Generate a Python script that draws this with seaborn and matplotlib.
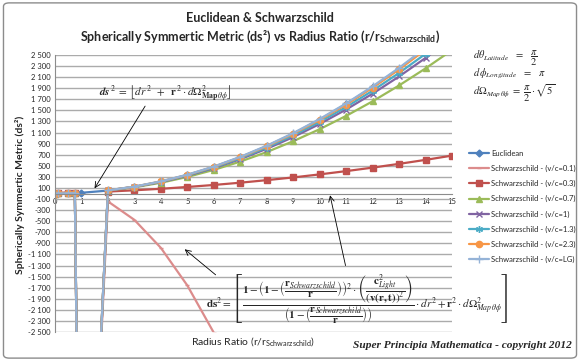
import numpy as np
import pandas as pd
import seaborn as sns
import matplotlib.pyplot as plt
from matplotlib.patches import FancyBboxPatch
from matplotlib.ticker import FuncFormatter

# radius ratio r / r_schwarzschild
r_euclid = [0, 1, 2, 3, 4, 5, 6, 7, 8, 9, 10, 11, 12, 13, 14, 15]
r_schw = [0, 0.1, 0.5, 0.75, 0.9999, 2, 3, 4, 5, 6, 7, 8, 9, 10, 11, 12, 13, 14, 15]

euclidean = [0, 13, 53, 120, 213, 333, 480, 654, 854, 1080, 1334, 1614, 1921, 2254, 2614, 3001]
schw_01 = [0, 9, 28, 24, -9987, -143, -476, -981, -1660, -2513, -3538, -4737, -6110, -7655,
           -9374, -11266, -13332, -15571, -17983]
schw_03 = [0, 1, 6, 7, -9987, 35, 58, 85, 118, 154, 195, 241, 290, 345, 404, 467, 535, 607, 684]
schw_07 = [0, 0.3, 3, 6, -9987, 53, 112, 194, 299, 426, 576, 748, 944, 1161, 1401, 1664, 1950,
           2258, 2588]
schw_1 = [0, 0.2, 3, 5, -9987, 55, 119, 207, 320, 457, 620, 807, 1018, 1255, 1516, 1802, 2112,
          2447, 2807]
schw_13 = [0, 0.2, 3, 5, -9987, 56, 121, 212, 328, 470, 637, 830, 1048, 1292, 1561, 1856, 2176,
           2521, 2893]
schw_23 = [0, 0.1, 3, 5, -9987, 57, 123, 217, 336, 482, 654, 852, 1077, 1328, 1605, 1909, 2239,
           2595, 2977]
schw_lg = [0, 0.1, 3, 5, -9987, 57, 125, 219, 340, 487, 662, 863, 1090, 1345, 1626, 1934, 2268,
           2629, 3017]

labels = ['Euclidean', 'Schwarzschild - (v/c=0.1)', 'Schwarzschild - (v/c=0.3)',
          'Schwarzschild - (v/c=0.7)', 'Schwarzschild - (v/c=1)', 'Schwarzschild - (v/c=1.3)',
          'Schwarzschild - (v/c=2.3)', 'Schwarzschild - (v/c=LG)']
colors = ['#4F81BD', '#DC8C8C', '#C0504D', '#9BBB59', '#8064A2', '#4BACC6', '#F79646', '#95B3D7']
markers = ['D', '_', 's', '^', 'x', (6, 2, 0), 'o', '+']
marker_sizes = [3.5, 3, 4.2, 4.5, 4.5, 5, 4.5, 5.5]

series = [euclidean, schw_01, schw_03, schw_07, schw_1, schw_13, schw_23, schw_lg]
x_values = [r_euclid] + [r_schw] * 7

sns.set_style('white')
plt.rcParams['font.family'] = ['Lato', 'DejaVu Sans']
plt.rcParams['mathtext.fontset'] = 'stix'

fig = plt.figure(figsize=(5.8, 3.61), dpi=100)
ax = fig.add_axes([55 / 580, 1 - 332 / 361, 397 / 580, 277 / 361])

for xs, ys, lab, col, mk, ms in zip(x_values, series, labels, colors, markers, marker_sizes):
    df = pd.DataFrame({'x': xs, 'y': ys})
    sns.lineplot(data=df, x='x', y='y', ax=ax, color=col, marker=mk, markersize=ms,
                 markeredgecolor=col, markeredgewidth=1.0, linewidth=1.6, label=lab,
                 sort=False, estimator=None)

ax.set_xlim(0, 15)
ax.set_ylim(-2500, 2500)
ax.set_xticks(range(0, 16))
ax.set_yticks(np.arange(-2500, 2501, 200))
ax.yaxis.set_major_formatter(FuncFormatter(lambda v, p: f'{int(v):,}'.replace(',', ' ')))
ax.grid(axis='y', color='#ABABAB', linewidth=1.0)
ax.set_axisbelow(True)
ax.spines['bottom'].set_position(('data', 0))
ax.spines['bottom'].set_color('#8C8C8C')
ax.spines['left'].set_color('#8C8C8C')
ax.spines['top'].set_visible(False)
ax.spines['right'].set_visible(False)
ax.tick_params(axis='both', labelsize=5.5, length=0, pad=3)
ax.set_xlabel('')
ax.set_ylabel('')
ax.get_legend().remove()

handles, labs = ax.get_legend_handles_labels()
fig.legend(handles, labs, loc='upper left', bbox_to_anchor=(462 / 580, 1 - 143 / 361),
           frameon=False, fontsize=5.5, handlelength=2.6, handletextpad=0.3, labelspacing=1.05)

# titles
fig.text(0.449, 1 - 18 / 361, 'Euclidean & Schwarzschild', ha='center', va='center',
         fontsize=9, fontweight='bold')
fig.text(0.449, 1 - 37 / 361,
         r'Spherically Symmertic Metric (ds²) vs Radius Ratio (r/r$_{\mathregular{Schwarzschild}}$)',
         ha='center', va='center', fontsize=9, fontweight='bold')
fig.text(20 / 580, 1 - 195 / 361, 'Spherically Symmertic Metric (ds²)', rotation=90,
         ha='center', va='center', fontsize=7.5, fontweight='bold')
fig.text(253 / 580, 1 - 341 / 361, r'Radius Ratio (r/r$_{\mathregular{Schwarzschild}}$)',
         ha='center', va='center', fontsize=7.5)
fig.text(572 / 580, 1 - 346 / 361, 'Super Principia Mathematica - copyright 2012',
         ha='right', va='center', fontsize=8.2, fontweight='bold', fontstyle='italic',
         family='Liberation Serif')

# equations
fig.text(165 / 580, 1 - 93 / 361,
         r'$\mathbfit{ds}^{\,2} \;=\; \left\lfloor \mathit{dr}^{\,2} \;\;+\;\; \mathbf{r}^{\,2}\cdot'
         r' \mathit{d}\Omega^{2}_{\mathbf{Map}\,\theta\phi} \right\rfloor$',
         ha='center', va='center', fontsize=8)
fig.text(473 / 580, 1 - 58 / 361, r'$\mathit{d\theta}_{\mathit{Latitude}}\;\;\;=\;\;\;\dfrac{\pi}{2}$',
         ha='left', va='center', fontsize=7.5)
fig.text(473 / 580, 1 - 74 / 361, r'$\mathit{d\,\phi}_{\mathit{Longitude}}\;\;\;=\;\;\;\pi$',
         ha='left', va='center', fontsize=7.5)
fig.text(473 / 580, 1 - 93 / 361,
         r'$\mathit{d}\Omega_{\mathit{Map}\,\theta\phi}\; =\; \dfrac{\pi}{2}\cdot\sqrt{5}$',
         ha='left', va='center', fontsize=7.5)
fig.text(357 / 580, 1 - 300 / 361,
         r'$\mathbf{ds}^2 = \left[\dfrac{\mathbf{1} - \left(\mathbf{1} - \left(\dfrac{\mathbf{r}_{Schwarzschild}}{\mathbf{r}}\right)\right)^2'
         r' \cdot \left(\dfrac{\mathbf{c}^{2}_{Light}}{(\mathbf{v(r,t)})^{2}}\right)}'
         r'{\left(\mathbf{1} - \left(\dfrac{\mathbf{r}_{Schwarzschild}}{\mathbf{r}}\right)\right)}'
         r'\cdot dr^{2} + \mathbf{r}^{2}\cdot d\Omega^{2}_{Map\,\theta\phi}\right]$',
         ha='center', va='center', fontsize=8)

# arrows
arrow = dict(arrowstyle='->', color='black', lw=0.6)
ax.annotate('', xy=(1.44, 50), xytext=(3.46, 1620), arrowprops=arrow, annotation_clip=False)
ax.annotate('', xy=(4.82, -975), xytext=(6.15, -1500), arrowprops=arrow, annotation_clip=False)
ax.annotate('', xy=(10.37, 16), xytext=(11.0, -1350), arrowprops=arrow, annotation_clip=False)

fig.patches.append(FancyBboxPatch((0.006, 0.008), 0.988, 0.984, boxstyle='round,pad=0,rounding_size=0.01',
                                  transform=fig.transFigure, fill=False, edgecolor='#8C8C8C', lw=1.0))

fig.savefig('out.png', dpi=100)
